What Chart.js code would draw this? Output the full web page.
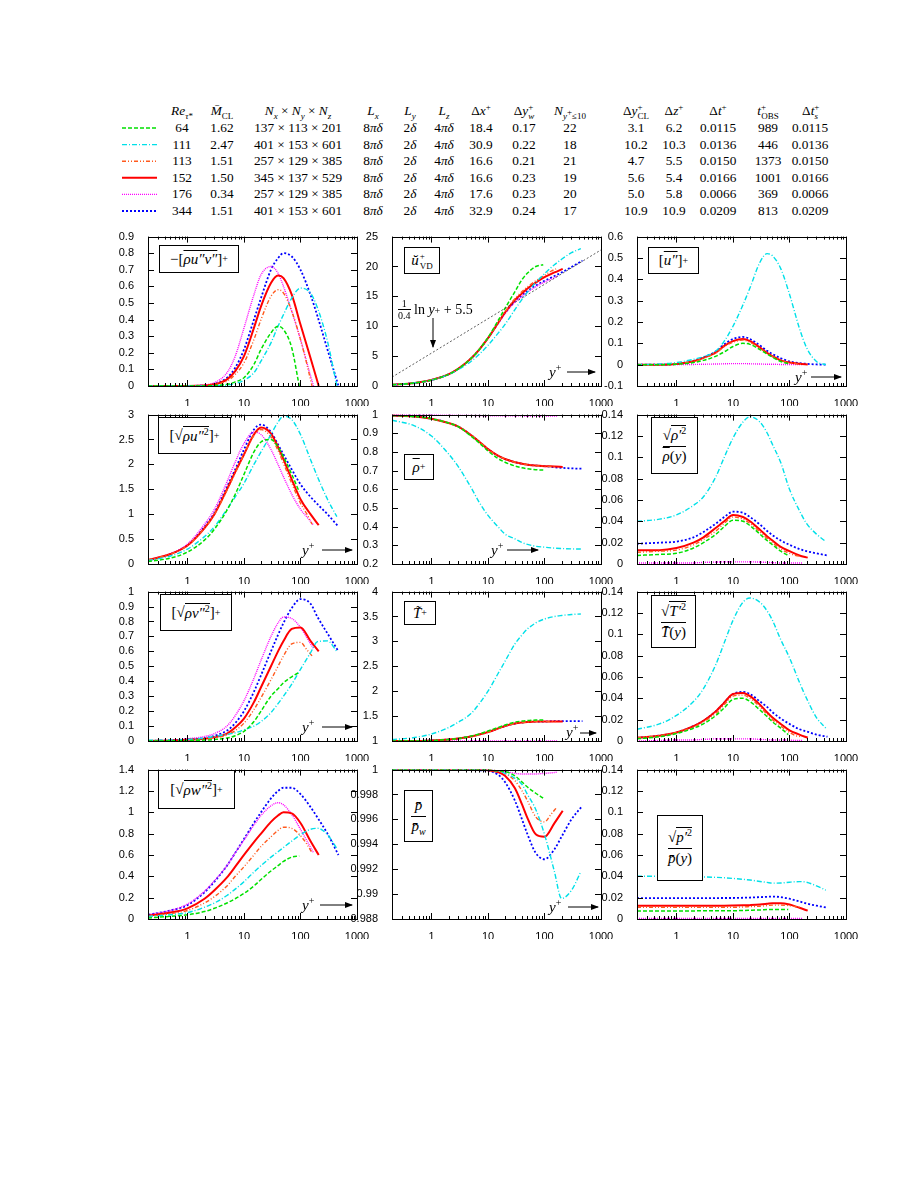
<!DOCTYPE html>
<html>
<head>
<meta charset="utf-8">
<script src="https://cdn.jsdelivr.net/npm/chart.js@4.4.1/dist/chart.umd.min.js"></script>
<style>
body { margin: 0; background: #fff; width: 910px; height: 1177px; position: relative; font-family: "Liberation Serif", "DejaVu Serif", serif; color: #000; }
canvas { position: absolute; }
.cell { position: absolute; font-size: 13.3px; line-height: 14px; white-space: nowrap; transform: translateX(-50%); }
.cell sub, .cell sup { font-size: 9px; line-height: 0; }
.box { position: absolute; box-sizing: border-box; border: 1.4px solid #000; background: #fff; font-size: 15px; display: flex; align-items: center; justify-content: center; white-space: nowrap; z-index: 2; }
.box sup, .box sub { font-size: 10px; line-height: 0; }
.ov { text-decoration: overline; }
.rad { border-top: 1px solid #000; padding-top: 1px; }
.fr { display: inline-flex; flex-direction: column; align-items: center; }
.fr .den { border-top: 1px solid #000; margin-top: 2px; padding-top: 1px; }
.ss { display: inline-flex; flex-direction: column; font-size: 9px; line-height: 10px; vertical-align: middle; margin-left: 1px; }
.yp { position: absolute; font-size: 15px; font-style: italic; z-index: 2; }
.yp sup { font-size: 10px; font-style: normal; }
svg { position: absolute; left: 0; top: 0; z-index: 3; }
</style>
</head>
<body>
<div id="table"></div>

<div class="box" style="left:159px;top:245px;width:80px;height:28px">−[<span class="ov"><i>ρu″v″</i></span>]<sup>+</sup></div>
<div class="box" style="left:404px;top:247px;width:36px;height:27px"><i>ŭ</i><span class="ss"><span>+</span><span>VD</span></span></div>
<div class="box" style="left:648px;top:247px;width:51px;height:27px">[<span class="ov"><i>u″</i></span>]<sup>+</sup></div>
<div class="box" style="left:158px;top:417px;width:73px;height:37px">[√<span class="rad"><i>ρu″</i><sup>2</sup></span>]<sup>+</sup></div>
<div class="box" style="left:404px;top:454px;width:30px;height:26px"><span class="ov"><i>ρ</i></span><sup>+</sup></div>
<div class="box" style="left:651px;top:417px;width:47px;height:57px"><div class="fr"><span>√<span class="rad"><i>ρ′</i><sup>2</sup></span></span><span class="den"><span class="ov"><i>ρ</i></span>(<i>y</i>)</span></div></div>
<div class="box" style="left:160px;top:594px;width:72px;height:37px">[√<span class="rad"><i>ρv″</i><sup>2</sup></span>]<sup>+</sup></div>
<div class="box" style="left:404px;top:601px;width:32px;height:24px"><i>T̃</i><sup>+</sup></div>
<div class="box" style="left:651px;top:595px;width:45px;height:53px"><div class="fr"><span>√<span class="rad"><i>T′</i><sup>2</sup></span></span><span class="den"><i>T̄</i>(<i>y</i>)</span></div></div>
<div class="box" style="left:158px;top:770px;width:77px;height:39px">[√<span class="rad"><i>ρw″</i><sup>2</sup></span>]<sup>+</sup></div>
<div class="box" style="left:404px;top:790px;width:29px;height:52px"><div class="fr"><span><i>p̄</i></span><span class="den"><i>p̄<sub>w</sub></i></span></div></div>
<div class="box" style="left:657px;top:815px;width:46px;height:66px"><div class="fr"><span>√<span class="rad"><i>p′</i><sup>2</sup></span></span><span class="den"><i>p̄</i>(<i>y</i>)</span></div></div>

<div class="yp" style="left:549px;top:362px">y<sup>+</sup></div>
<div class="yp" style="left:795px;top:367px">y<sup>+</sup></div>
<div class="yp" style="left:302px;top:540px">y<sup>+</sup></div>
<div class="yp" style="left:491px;top:540px">y<sup>+</sup></div>
<div class="yp" style="left:302px;top:717px">y<sup>+</sup></div>
<div class="yp" style="left:566px;top:722px">y<sup>+</sup></div>
<div class="yp" style="left:302px;top:895px">y<sup>+</sup></div>
<div class="yp" style="left:549px;top:897px">y<sup>+</sup></div>
<div class="yp" style="left:398px;top:299px;font-style:normal;font-size:14px;display:flex;align-items:center"><span class="fr" style="font-size:10px;line-height:10px"><span>1</span><span class="den" style="margin-top:0">0.4</span></span>&nbsp;ln&nbsp;<i>y</i><sup>+</sup>&nbsp;+ 5.5</div>

<svg id="ov" width="910" height="1177"></svg>

<script>
// table values, one entry per case
var reTau = ["64", "111", "113", "152", "176", "344"];
var machCL = ["1.62", "2.47", "1.51", "1.50", "0.34", "1.51"];
var gridSize = ["137 × 113 × 201", "401 × 153 × 601", "257 × 129 × 385", "345 × 137 × 529", "257 × 129 × 385", "401 × 153 × 601"];
var lengthX = ["8<i>πδ</i>", "8<i>πδ</i>", "8<i>πδ</i>", "8<i>πδ</i>", "8<i>πδ</i>", "8<i>πδ</i>"];
var lengthY = ["2<i>δ</i>", "2<i>δ</i>", "2<i>δ</i>", "2<i>δ</i>", "2<i>δ</i>", "2<i>δ</i>"];
var lengthZ = ["4<i>πδ</i>", "4<i>πδ</i>", "4<i>πδ</i>", "4<i>πδ</i>", "4<i>πδ</i>", "4<i>πδ</i>"];
var dxPlus = ["18.4", "30.9", "16.6", "16.6", "17.6", "32.9"];
var dyWall = ["0.17", "0.22", "0.21", "0.23", "0.23", "0.24"];
var nNearWall = ["22", "18", "21", "19", "20", "17"];
var dyCenter = ["3.1", "10.2", "4.7", "5.6", "5.0", "10.9"];
var dzPlus = ["6.2", "10.3", "5.5", "5.4", "5.8", "10.9"];
var dtPlus = ["0.0115", "0.0136", "0.0150", "0.0166", "0.0066", "0.0209"];
var tObs = ["989", "446", "1373", "1001", "369", "813"];
var dtStat = ["0.0115", "0.0136", "0.0150", "0.0166", "0.0066", "0.0209"];

// y+ sample points of each case
var yPlus64  = [0.2, 0.5, 1, 2, 3, 5, 7, 10, 15, 20, 30, 40, 50, 70, 95];
var yPlus111 = [0.2, 0.5, 1, 2, 3, 5, 7, 10, 15, 20, 30, 40, 50, 70, 100, 150, 200, 300, 440];
var yPlus113 = [0.2, 0.5, 1, 2, 3, 5, 7, 10, 15, 20, 30, 40, 50, 70, 100, 130, 160];
var yPlus152 = [0.2, 0.5, 1, 2, 3, 5, 7, 10, 15, 20, 30, 40, 50, 70, 100, 150, 210];
var yPlus176 = [0.2, 0.5, 1, 2, 3, 5, 7, 10, 15, 20, 30, 40, 50, 70, 100, 140, 170];
var yPlus344 = [0.2, 0.5, 1, 2, 3, 5, 7, 10, 15, 20, 30, 40, 50, 70, 100, 150, 200, 300, 470];

// profiles, order: 64, 111, 113, 152, 176, 344
var uvStress = [
  [0, 0, 0, 0.001, 0.003, 0.01, 0.025, 0.05, 0.13, 0.22, 0.32, 0.36, 0.34, 0.23, 0],
  [0, 0, 0, 0.001, 0.002, 0.006, 0.015, 0.035, 0.08, 0.15, 0.26, 0.36, 0.43, 0.53, 0.59, 0.56, 0.47, 0.27, 0],
  [0, 0, 0, 0.002, 0.008, 0.03, 0.07, 0.14, 0.28, 0.4, 0.54, 0.58, 0.56, 0.45, 0.28, 0.13, 0],
  [0, 0, 0, 0.003, 0.01, 0.04, 0.09, 0.18, 0.35, 0.48, 0.62, 0.665, 0.65, 0.55, 0.37, 0.17, 0],
  [0, 0, 0.001, 0.006, 0.02, 0.08, 0.18, 0.35, 0.55, 0.67, 0.72, 0.68, 0.6, 0.45, 0.28, 0.1, 0],
  [0, 0, 0, 0.004, 0.012, 0.05, 0.11, 0.22, 0.4, 0.53, 0.7, 0.77, 0.8, 0.78, 0.7, 0.55, 0.42, 0.22, 0]
];
var uVD = [
  [0.2, 0.5, 1, 1.95, 2.9, 4.6, 6.1, 8.1, 10.9, 13.0, 15.8, 17.8, 18.9, 20.0, 20.3],
  [0.2, 0.5, 0.98, 1.9, 2.75, 4.1, 5.3, 6.8, 8.8, 10.3, 12.8, 14.5, 15.7, 17.3, 18.8, 20.3, 21.2, 22.3, 23.0],
  [0.2, 0.5, 1, 1.95, 2.9, 4.6, 6.1, 8.0, 10.6, 12.4, 14.6, 15.8, 16.6, 17.6, 18.5, 19.2, 19.6],
  [0.2, 0.5, 1, 1.95, 2.9, 4.6, 6.1, 8.0, 10.5, 12.3, 14.4, 15.5, 16.3, 17.3, 18.2, 19.0, 19.6],
  [0.2, 0.5, 1, 1.95, 2.9, 4.6, 6.1, 8.0, 10.4, 12.1, 14.0, 15.0, 15.7, 16.6, 17.4, 18.0, 18.4],
  [0.2, 0.5, 1, 1.95, 2.9, 4.6, 6.1, 8.0, 10.5, 12.2, 14.2, 15.2, 15.9, 16.8, 17.6, 18.4, 19.0, 19.9, 21.0]
];
var logLawY = [0.2, 1000];
var logLawU = [1.48, 22.77];
var uFavre = [
  [0, 0, 0.002, 0.01, 0.02, 0.04, 0.06, 0.085, 0.1, 0.095, 0.07, 0.05, 0.035, 0.015, 0.005],
  [0, 0.003, 0.01, 0.025, 0.037, 0.065, 0.11, 0.18, 0.28, 0.36, 0.48, 0.52, 0.51, 0.45, 0.33, 0.17, 0.08, 0.015, 0],
  [0, 0, 0.003, 0.015, 0.03, 0.055, 0.085, 0.105, 0.115, 0.105, 0.077, 0.053, 0.038, 0.02, 0.01, 0.005, 0.002],
  [0, 0, 0.003, 0.016, 0.032, 0.058, 0.088, 0.11, 0.12, 0.11, 0.08, 0.055, 0.04, 0.02, 0.01, 0.004, 0.001],
  [0, 0, 0, 0.001, 0.002, 0.003, 0.004, 0.005, 0.005, 0.004, 0.003, 0.002, 0.002, 0.001, 0.001, 0, 0],
  [0, 0, 0.003, 0.017, 0.034, 0.062, 0.095, 0.12, 0.13, 0.12, 0.09, 0.065, 0.05, 0.03, 0.015, 0.007, 0.004, 0.001, 0]
];
var rhoU = [
  [0.05, 0.12, 0.24, 0.48, 0.7, 1.08, 1.4, 1.8, 2.25, 2.45, 2.5, 2.35, 2.15, 1.8, 1.45],
  [0.07, 0.16, 0.3, 0.55, 0.75, 1.1, 1.35, 1.62, 2.0, 2.25, 2.6, 2.85, 2.97, 2.9, 2.6, 2.1, 1.75, 1.3, 0.95],
  [0.08, 0.2, 0.37, 0.72, 1.0, 1.48, 1.83, 2.2, 2.58, 2.7, 2.55, 2.28, 2.02, 1.62, 1.22, 1.0, 0.8],
  [0.08, 0.2, 0.37, 0.72, 1.0, 1.5, 1.85, 2.2, 2.6, 2.74, 2.62, 2.35, 2.1, 1.7, 1.3, 1.0, 0.78],
  [0.08, 0.21, 0.4, 0.8, 1.1, 1.65, 2.05, 2.42, 2.65, 2.6, 2.3, 2.0, 1.75, 1.4, 1.1, 0.9, 0.78],
  [0.07, 0.2, 0.38, 0.75, 1.03, 1.55, 1.9, 2.3, 2.7, 2.8, 2.65, 2.4, 2.2, 1.9, 1.6, 1.35, 1.2, 1.0, 0.75]
];
var rhoMean = [
  [0.995, 0.99, 0.978, 0.955, 0.935, 0.885, 0.848, 0.805, 0.765, 0.745, 0.725, 0.715, 0.71, 0.705, 0.703],
  [0.97, 0.94, 0.885, 0.79, 0.72, 0.61, 0.53, 0.46, 0.4, 0.36, 0.335, 0.315, 0.305, 0.295, 0.29, 0.285, 0.283, 0.281, 0.28],
  [0.995, 0.99, 0.978, 0.955, 0.935, 0.89, 0.855, 0.815, 0.78, 0.762, 0.745, 0.737, 0.732, 0.727, 0.724, 0.722, 0.721],
  [0.995, 0.99, 0.978, 0.955, 0.935, 0.89, 0.855, 0.815, 0.78, 0.762, 0.745, 0.737, 0.732, 0.727, 0.724, 0.722, 0.72],
  [1.0, 0.999, 0.999, 0.998, 0.997, 0.996, 0.995, 0.994, 0.993, 0.993, 0.993, 0.993, 0.992, 0.992, 0.992, 0.992, 0.992],
  [0.995, 0.99, 0.978, 0.955, 0.935, 0.89, 0.855, 0.815, 0.78, 0.762, 0.745, 0.737, 0.732, 0.727, 0.724, 0.718, 0.715, 0.712, 0.71]
];
var rhoFluct = [
  [0.008, 0.009, 0.01, 0.015, 0.02, 0.028, 0.035, 0.041, 0.04, 0.036, 0.028, 0.022, 0.018, 0.012, 0.008],
  [0.04, 0.042, 0.046, 0.055, 0.063, 0.082, 0.1, 0.118, 0.133, 0.138, 0.133, 0.123, 0.112, 0.095, 0.07, 0.05, 0.038, 0.028, 0.021],
  [0.011, 0.012, 0.013, 0.018, 0.023, 0.031, 0.038, 0.044, 0.042, 0.038, 0.03, 0.024, 0.02, 0.014, 0.01, 0.008, 0.007],
  [0.013, 0.013, 0.015, 0.02, 0.025, 0.034, 0.04, 0.046, 0.044, 0.04, 0.032, 0.026, 0.022, 0.016, 0.012, 0.008, 0.006],
  [0.001, 0.001, 0.001, 0.001, 0.0015, 0.0018, 0.002, 0.002, 0.002, 0.002, 0.0018, 0.0015, 0.0013, 0.001, 0.001, 0.001, 0.001],
  [0.019, 0.02, 0.021, 0.025, 0.03, 0.038, 0.044, 0.049, 0.048, 0.044, 0.037, 0.031, 0.027, 0.022, 0.018, 0.014, 0.012, 0.01, 0.008]
];
var rhoV = [
  [0, 0.001, 0.003, 0.006, 0.01, 0.02, 0.035, 0.065, 0.13, 0.2, 0.3, 0.35, 0.39, 0.43, 0.46],
  [0.005, 0.007, 0.01, 0.02, 0.03, 0.045, 0.055, 0.075, 0.1, 0.13, 0.19, 0.25, 0.3, 0.38, 0.48, 0.59, 0.665, 0.67, 0.6],
  [0, 0.002, 0.006, 0.012, 0.02, 0.04, 0.07, 0.12, 0.21, 0.29, 0.41, 0.5, 0.57, 0.65, 0.66, 0.61, 0.57],
  [0, 0.003, 0.008, 0.015, 0.025, 0.05, 0.09, 0.15, 0.26, 0.36, 0.5, 0.6, 0.67, 0.75, 0.76, 0.67, 0.6],
  [0, 0.005, 0.015, 0.03, 0.05, 0.1, 0.17, 0.27, 0.42, 0.54, 0.7, 0.79, 0.83, 0.82, 0.76, 0.67, 0.62],
  [0, 0.004, 0.01, 0.02, 0.035, 0.07, 0.12, 0.2, 0.33, 0.44, 0.6, 0.71, 0.79, 0.89, 0.95, 0.92, 0.83, 0.72, 0.6]
];
var tMean = [
  [1.0, 1.0, 1.01, 1.03, 1.05, 1.1, 1.14, 1.2, 1.27, 1.32, 1.38, 1.4, 1.41, 1.42, 1.42],
  [1.03, 1.07, 1.14, 1.27, 1.38, 1.55, 1.75, 2.0, 2.35, 2.6, 2.95, 3.13, 3.25, 3.37, 3.45, 3.5, 3.52, 3.54, 3.55],
  [1.0, 1.0, 1.01, 1.03, 1.05, 1.09, 1.13, 1.18, 1.25, 1.3, 1.35, 1.37, 1.38, 1.39, 1.39, 1.39, 1.39],
  [1.0, 1.0, 1.01, 1.03, 1.05, 1.09, 1.13, 1.18, 1.25, 1.3, 1.35, 1.37, 1.38, 1.39, 1.39, 1.39, 1.39],
  [1.0, 1.0, 1.0, 1.0, 1.0, 1.0, 1.0, 1.001, 1.002, 1.002, 1.003, 1.003, 1.003, 1.003, 1.003, 1.003, 1.003],
  [1.0, 1.0, 1.01, 1.03, 1.05, 1.09, 1.13, 1.18, 1.25, 1.3, 1.35, 1.37, 1.38, 1.39, 1.39, 1.4, 1.4, 1.4, 1.4]
];
var tFluct = [
  [0.002, 0.004, 0.007, 0.012, 0.016, 0.024, 0.031, 0.039, 0.04, 0.037, 0.029, 0.023, 0.018, 0.012, 0.006],
  [0.011, 0.016, 0.024, 0.037, 0.049, 0.072, 0.092, 0.113, 0.13, 0.134, 0.13, 0.122, 0.113, 0.095, 0.078, 0.055, 0.04, 0.022, 0.012],
  [0.003, 0.005, 0.008, 0.013, 0.018, 0.026, 0.034, 0.042, 0.043, 0.04, 0.032, 0.025, 0.02, 0.014, 0.008, 0.005, 0.004],
  [0.003, 0.005, 0.008, 0.014, 0.019, 0.028, 0.036, 0.044, 0.045, 0.042, 0.034, 0.027, 0.022, 0.016, 0.01, 0.006, 0.003],
  [0, 0.0005, 0.001, 0.001, 0.0015, 0.002, 0.002, 0.002, 0.002, 0.002, 0.0015, 0.0012, 0.001, 0.001, 0.0008, 0.0005, 0.0005],
  [0.003, 0.005, 0.008, 0.014, 0.019, 0.028, 0.036, 0.044, 0.046, 0.044, 0.037, 0.032, 0.027, 0.021, 0.016, 0.011, 0.009, 0.006, 0.004]
];
var rhoW = [
  [0.01, 0.025, 0.04, 0.07, 0.1, 0.15, 0.19, 0.24, 0.31, 0.37, 0.45, 0.5, 0.54, 0.58, 0.59],
  [0.025, 0.04, 0.06, 0.11, 0.15, 0.22, 0.28, 0.35, 0.44, 0.5, 0.58, 0.63, 0.67, 0.73, 0.79, 0.84, 0.85, 0.79, 0.66],
  [0.025, 0.05, 0.08, 0.15, 0.21, 0.31, 0.4, 0.49, 0.6, 0.68, 0.77, 0.83, 0.86, 0.85, 0.78, 0.7, 0.62],
  [0.03, 0.06, 0.1, 0.19, 0.27, 0.39, 0.49, 0.6, 0.72, 0.8, 0.91, 0.97, 1.0, 0.99, 0.9, 0.73, 0.6],
  [0.04, 0.08, 0.14, 0.26, 0.36, 0.5, 0.62, 0.74, 0.88, 0.97, 1.06, 1.09, 1.07, 0.98, 0.84, 0.7, 0.62],
  [0.04, 0.08, 0.13, 0.25, 0.35, 0.5, 0.62, 0.75, 0.9, 1.0, 1.13, 1.2, 1.23, 1.23, 1.17, 1.05, 0.95, 0.8, 0.6]
];
var pMean = [
  [1, 1, 1, 1, 1, 1, 1, 0.99998, 0.9999, 0.99985, 0.9995, 0.999, 0.9986, 0.9981, 0.9977],
  [1, 1, 1, 1, 1, 1, 1, 0.99995, 0.9999, 0.9997, 0.9993, 0.9988, 0.998, 0.9968, 0.9948, 0.9918, 0.98965, 0.9903, 0.9918],
  [1, 1, 1, 1, 1, 1, 1, 0.99997, 0.9999, 0.9997, 0.9991, 0.9983, 0.9975, 0.9962, 0.9958, 0.9964, 0.9969],
  [1, 1, 1, 1, 1, 1, 1, 0.99995, 0.9998, 0.9995, 0.9985, 0.9972, 0.9961, 0.9948, 0.9946, 0.9957, 0.9967],
  [1, 1, 1, 1, 1, 1, 1, 0.99998, 0.9999, 0.99985, 0.9997, 0.99965, 0.99965, 0.99965, 0.9997, 0.99975, 0.9998],
  [1, 1, 1, 1, 1, 1, 0.99995, 0.9999, 0.9996, 0.999, 0.9975, 0.996, 0.9948, 0.9933, 0.9928, 0.9936, 0.9946, 0.996, 0.9971]
];
var pFluct = [
  [0.0075, 0.0075, 0.0076, 0.0076, 0.0077, 0.0077, 0.0078, 0.0078, 0.008, 0.0082, 0.0085, 0.0088, 0.009, 0.009, 0.0088],
  [0.04, 0.04, 0.0398, 0.0396, 0.0394, 0.039, 0.0386, 0.038, 0.0372, 0.0365, 0.0352, 0.0343, 0.0336, 0.0337, 0.0345, 0.035, 0.0345, 0.031, 0.027],
  [0.011, 0.011, 0.011, 0.011, 0.011, 0.011, 0.011, 0.011, 0.0113, 0.0116, 0.012, 0.0125, 0.013, 0.013, 0.0125, 0.0115, 0.0105],
  [0.0125, 0.0125, 0.0125, 0.0125, 0.0125, 0.0125, 0.0125, 0.0126, 0.0128, 0.013, 0.0135, 0.0142, 0.0148, 0.0148, 0.0135, 0.0105, 0.0078],
  [0.0005, 0.0005, 0.0005, 0.0005, 0.0005, 0.0005, 0.0005, 0.0005, 0.0005, 0.0005, 0.0005, 0.0005, 0.0005, 0.0005, 0.0005, 0.0005, 0.0005],
  [0.0195, 0.0195, 0.0195, 0.0195, 0.0196, 0.0196, 0.0197, 0.0197, 0.0199, 0.0201, 0.0205, 0.0208, 0.021, 0.0205, 0.019, 0.0165, 0.0145, 0.0125, 0.0105]
];

var yPlusGrids = [yPlus64, yPlus111, yPlus113, yPlus152, yPlus176, yPlus344];
var xTicks = [1, 10, 100, 1000];

// line styles per case
var lineColors = ["#00e000", "#00e0e8", "#ff5a1e", "#ff0000", "#ff00ff", "#0000ff"];
var lineDashes = [[4, 2], [5, 2, 1, 2], [4, 2, 1, 2, 1, 2], [], [1, 1], [2, 2]];
var lineWidths = [1.5, 1.4, 1.4, 2, 1.4, 1.8];

// ---- table ----
var colX = [182, 222, 298, 373, 410, 444, 481, 524, 570, 636, 674, 718, 768, 810];
var headers = ["<i>Re</i><sub><i>τ</i>*</sub>", "<i>M̄</i><sub>CL</sub>", "<i>N<sub>x</sub></i> × <i>N<sub>y</sub></i> × <i>N<sub>z</sub></i>",
  "<i>L<sub>x</sub></i>", "<i>L<sub>y</sub></i>", "<i>L<sub>z</sub></i>", "Δ<i>x</i><sup>+</sup>", "Δ<i>y</i><sup>+</sup><sub style='margin-left:-5px'><i>w</i></sub>",
  "<i>N</i><sub><i>y</i><sup>+</sup>≤10</sub>", "Δ<i>y</i><sup>+</sup><sub style='margin-left:-5px'>CL</sub>", "Δ<i>z</i><sup>+</sup>", "Δ<i>t</i><sup>+</sup>",
  "<i>t</i><sup>+</sup><sub style='margin-left:-5px'>OBS</sub>", "Δ<i>t</i><sup>+</sup><sub style='margin-left:-5px'><i>s</i></sub>"];
var columns = [reTau, machCL, gridSize, lengthX, lengthY, lengthZ, dxPlus, dyWall, nNearWall, dyCenter, dzPlus, dtPlus, tObs, dtStat];
var rowY = [111, 128, 144.6, 161.2, 177.8, 194.4, 211];
var tbl = document.getElementById("table");
var html = "";
headers.forEach(function (h, c) {
  html += '<div class="cell" style="left:' + colX[c] + 'px;top:' + (rowY[0] - 7) + 'px">' + h + '</div>';
  columns[c].forEach(function (v, r) {
    html += '<div class="cell" style="left:' + colX[c] + 'px;top:' + (rowY[r + 1] - 7) + 'px">' + v + '</div>';
  });
});
tbl.innerHTML = html;

var svg = document.getElementById("ov");
var s = '<defs><marker id="ah" markerWidth="8" markerHeight="6" refX="7" refY="3" orient="auto" markerUnits="userSpaceOnUse"><path d="M0,0 L8,3 L0,6 z" fill="#000"/></marker></defs>';
reTau.forEach(function (r, i) {
  s += '<line x1="122" x2="157" y1="' + rowY[i + 1] + '" y2="' + rowY[i + 1] + '" stroke="' + lineColors[i] + '" stroke-width="' + lineWidths[i] +
    '" stroke-dasharray="' + (lineDashes[i].length ? lineDashes[i].join(" ") : "none") + '"/>';
});
// y+ arrows
[[567, 595, 372], [811, 841, 377], [322, 352, 550], [507, 538, 550], [322, 352, 727], [580, 596, 733], [320, 352, 905], [568, 598, 907]].forEach(function (a) {
  s += '<line x1="' + a[0] + '" x2="' + a[1] + '" y1="' + a[2] + '" y2="' + a[2] + '" stroke="#000" stroke-width="1" marker-end="url(#ah)"/>';
});
s += '<line x1="433" x2="433" y1="318" y2="347" stroke="#000" stroke-width="1" marker-end="url(#ah)"/>';
svg.innerHTML = s;

// ---- charts ----
var frameTicks = {
  id: "frameTicks",
  afterDatasetsDraw: function (chart) {
    var ctx = chart.ctx, a = chart.chartArea, x = chart.scales.x, y = chart.scales.y;
    ctx.save();
    ctx.strokeStyle = "#000";
    ctx.lineWidth = 1;
    ctx.beginPath();
    [0.1, 1, 10, 100, 1000].forEach(function (d) {
      for (var k = 1; k < 10; k++) {
        var v = d * k;
        if (v < x.min * 0.999 || v > x.max * 1.001) continue;
        var px = Math.round(x.getPixelForValue(v)) + 0.5;
        var len = k === 1 ? 6 : 3;
        ctx.moveTo(px, a.bottom); ctx.lineTo(px, a.bottom - len);
        ctx.moveTo(px, a.top); ctx.lineTo(px, a.top + len);
      }
    });
    y.ticks.forEach(function (t) {
      var py = Math.round(y.getPixelForValue(t.value)) + 0.5;
      ctx.moveTo(a.left, py); ctx.lineTo(a.left + 6, py);
      ctx.moveTo(a.right, py); ctx.lineTo(a.right - 6, py);
    });
    ctx.stroke();
    ctx.strokeRect(Math.round(a.left) + 0.5, Math.round(a.top) + 0.5, Math.round(a.right - a.left), Math.round(a.bottom - a.top));
    ctx.restore();
  }
};

var boxLeft = [148, 392, 637];
var boxTop = [232, 410, 587, 765];
var boxW = 209, boxH = 154;

var panels = [
  { vals: uvStress, min: 0, max: 0.9, step: 0.1 },
  { vals: uVD, min: 0, max: 25, step: 5, logLaw: true },
  { vals: uFavre, min: -0.1, max: 0.6, step: 0.1 },
  { vals: rhoU, min: 0, max: 3, step: 0.5 },
  { vals: rhoMean, min: 0.2, max: 1, step: 0.1 },
  { vals: rhoFluct, min: 0, max: 0.14, step: 0.02 },
  { vals: rhoV, min: 0, max: 1, step: 0.1 },
  { vals: tMean, min: 1, max: 4, step: 0.5 },
  { vals: tFluct, min: 0, max: 0.14, step: 0.02 },
  { vals: rhoW, min: 0, max: 1.4, step: 0.2 },
  { vals: pMean, min: 0.988, max: 1, step: 0.002 },
  { vals: pFluct, min: 0, max: 0.14, step: 0.02 }
];

var tickFont = { family: "'Liberation Sans', Arial, sans-serif", size: 11 };

panels.forEach(function (p, n) {
  var col = n % 3, row = Math.floor(n / 3);
  var cv = document.createElement("canvas");
  var padL = 45, padT = 8, padR = 16, padB = 20;
  cv.width = padL + boxW + padR;
  cv.height = padT + boxH + padB;
  cv.style.left = (boxLeft[col] - padL) + "px";
  cv.style.top = (boxTop[row] - padT) + "px";
  document.body.appendChild(cv);

  var datasets = p.vals.map(function (vals, i) {
    return {
      label: "Re_tau " + reTau[i],
      data: yPlusGrids[i].map(function (yp, k) { return { x: yp, y: vals[k] }; }),
      borderColor: lineColors[i],
      borderDash: lineDashes[i],
      borderWidth: lineWidths[i],
      pointRadius: 0,
      cubicInterpolationMode: "monotone",
      fill: false
    };
  });
  if (p.logLaw) {
    datasets.unshift({
      label: "log law",
      data: logLawY.map(function (yp, k) { return { x: yp, y: logLawU[k] }; }),
      borderColor: "#333",
      borderDash: [2, 2],
      borderWidth: 0.8,
      pointRadius: 0,
      fill: false
    });
  }
  var nTicks = Math.round((p.max - p.min) / p.step);
  var yTicks = [];
  for (var k = 0; k <= nTicks; k++) yTicks.push(Number((p.min + k * p.step).toFixed(4)));

  new Chart(cv, {
    type: "line",
    data: { datasets: datasets },
    options: {
      responsive: false,
      devicePixelRatio: 1,
      animation: false,
      events: [],
      layout: { padding: { left: 0, top: padT, right: padR, bottom: 0 } },
      plugins: { legend: { display: false }, tooltip: { enabled: false } },
      scales: {
        x: {
          type: "logarithmic", min: 0.2, max: 1000,
          afterBuildTicks: function (sc) { sc.ticks = xTicks.map(function (v) { return { value: v }; }); },
          afterFit: function (sc) { sc.height = padB; },
          grid: { display: false }, border: { display: false },
          ticks: { font: tickFont, color: "#000", padding: 3, maxRotation: 0, autoSkip: false, callback: function (v) { return String(v); } }
        },
        y: {
          type: "linear", min: p.min, max: p.max,
          afterBuildTicks: function (sc) { sc.ticks = yTicks.map(function (v) { return { value: v }; }); },
          afterFit: function (sc) { sc.width = padL; },
          grid: { display: false }, border: { display: false },
          ticks: { font: tickFont, color: "#000", padding: 6, autoSkip: false, callback: function (v) { return String(Number(Number(v).toFixed(4))); } }
        }
      }
    },
    plugins: [frameTicks]
  });
});
</script>
</body>
</html>
